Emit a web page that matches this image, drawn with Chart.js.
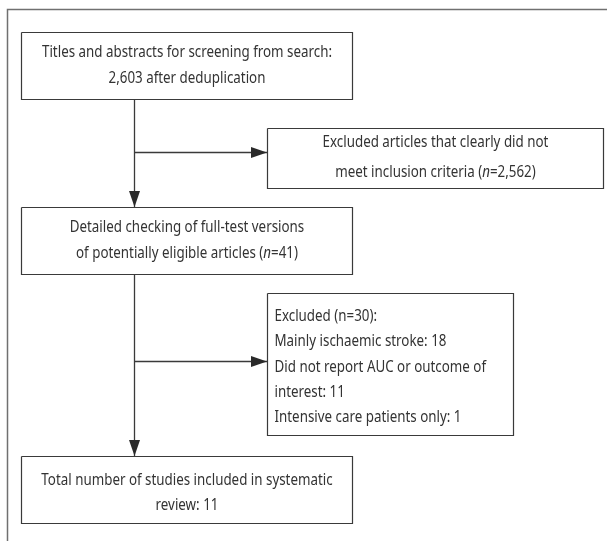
<!DOCTYPE html>
<html>
<head>
<meta charset="utf-8">
<script src="https://cdn.jsdelivr.net/npm/chart.js@4/dist/chart.umd.min.js"></script>
<style>
  html, body { margin: 0; padding: 0; background: #fff; }
  canvas { display: block; }
</style>
</head>
<body>
<canvas id="flow" width="607" height="541"></canvas>
<script>
// flow stages (left column) and their counts
var stageLabels = ['Titles and abstracts for screening from search', 'Detailed checking of full-test versions of potentially eligible articles', 'Total number of studies included in systematic review'];
var stageCounts = [2603, 41, 11];

// exclusions (right column)
var excludedLabels = ['Excluded articles that clearly did not meet inclusion criteria', 'Excluded'];
var excludedCounts = [2562, 30];

// reasons for the second exclusion
var reasonLabels = ['Mainly ischaemic stroke', 'Did not report AUC or outcome of interest', 'Intensive care patients only'];
var reasonCounts = [18, 11, 1];

function fmt(n) { return n.toLocaleString('en-US'); }

// layout, in scale units (scale == pixels here)
var boxes = [
  { r: [21.5, 32.5, 352.5, 99.5],  align: 'center', ys: [52, 78] },
  { r: [267.5, 128.5, 603.5, 188.5], align: 'center', ys: [142, 172] },
  { r: [21.5, 207.5, 352.5, 274.5], align: 'center', ys: [227, 253] },
  { r: [267.5, 293.5, 513.5, 435.5], align: 'left', ys: [316, 341, 367, 392, 417] },
  { r: [21.5, 456.5, 352.5, 523.5], align: 'center', ys: [480, 505] }
];
var trunkX = 134.5;
var arrows = [
  [[trunkX, 99.5], [trunkX, 207]],
  [[trunkX, 152.5], [267, 152.5]],
  [[trunkX, 274.5], [trunkX, 456]],
  [[trunkX, 361.5], [267, 361.5]]
];

// text of each box, lines as segments (i = italic)
var texts = [
  [[{ t: stageLabels[0] + ':' }], [{ t: fmt(stageCounts[0]) + ' after deduplication' }]],
  [[{ t: 'Excluded articles that clearly did not' }],
   [{ t: 'meet inclusion criteria (' }, { t: 'n', i: true }, { t: '=' + fmt(excludedCounts[0]) + ')' }]],
  [[{ t: 'Detailed checking of full-test versions' }],
   [{ t: 'of potentially eligible articles (' }, { t: 'n', i: true }, { t: '=' + fmt(stageCounts[1]) + ')' }]],
  [[{ t: excludedLabels[1] + ' (n=' + excludedCounts[1] + '):' }],
   [{ t: reasonLabels[0] + ': ' + reasonCounts[0] }],
   [{ t: 'Did not report AUC or outcome of' }],
   [{ t: 'interest: ' + reasonCounts[1] }],
   [{ t: reasonLabels[2] + ': ' + reasonCounts[2] }]],
  [[{ t: 'Total number of studies included in systematic' }], [{ t: 'review: ' + stageCounts[2] }]]
];

var FONT = '"Noto Sans", sans-serif';
var SIZE = 16.5;
var FIRST_LINE_WIDTH = 290; // width of the first line in the reference, used to condense the font

function rectPoints(r) {
  return [{ x: r[0], y: r[1] }, { x: r[2], y: r[1] }, { x: r[2], y: r[3] }, { x: r[0], y: r[3] }, { x: r[0], y: r[1] }];
}

var datasets = [];
// outer frame
datasets.push({ data: [{ x: 7.5, y: 541 }, { x: 7.5, y: 9.5 }, { x: 607, y: 9.5 }], borderColor: '#707070', borderWidth: 1.5 });
boxes.forEach(function (b) {
  datasets.push({ data: rectPoints(b.r), borderColor: '#3a3a3a', borderWidth: 1.2 });
});
arrows.forEach(function (a) {
  datasets.push({ data: a.map(function (p) { return { x: p[0], y: p[1] }; }), borderColor: '#3a3a3a', borderWidth: 1.3, arrow: true });
});
datasets.forEach(function (d) {
  d.showLine = true; d.pointRadius = 0; d.fill = false; d.tension = 0; d.clip = false;
});

var flowPlugin = {
  id: 'flow',
  afterDatasetsDraw: function (chart) {
    var ctx = chart.ctx, xs = chart.scales.x, ys = chart.scales.y;
    ctx.save();
    // arrow heads
    chart.data.datasets.forEach(function (d) {
      if (!d.arrow) return;
      var n = d.data.length;
      var p1 = d.data[n - 2], p2 = d.data[n - 1];
      var x1 = xs.getPixelForValue(p1.x), y1 = ys.getPixelForValue(p1.y);
      var x2 = xs.getPixelForValue(p2.x), y2 = ys.getPixelForValue(p2.y);
      var ang = Math.atan2(y2 - y1, x2 - x1), len = 16, half = 5.5;
      ctx.fillStyle = '#2a2a2a';
      ctx.beginPath();
      ctx.moveTo(x2, y2);
      ctx.lineTo(x2 - len * Math.cos(ang) - half * Math.sin(ang), y2 - len * Math.sin(ang) + half * Math.cos(ang));
      ctx.lineTo(x2 - len * Math.cos(ang) + half * Math.sin(ang), y2 - len * Math.sin(ang) - half * Math.cos(ang));
      ctx.closePath();
      ctx.fill();
    });
    // horizontal squeeze so the font looks condensed like the reference
    ctx.font = SIZE + 'px ' + FONT;
    var sx = FIRST_LINE_WIDTH / ctx.measureText(texts[0][0][0].t).width;
    ctx.fillStyle = '#333';
    ctx.textBaseline = 'middle';
    ctx.textAlign = 'left';
    boxes.forEach(function (b, bi) {
      var x0 = xs.getPixelForValue(b.r[0]), x1 = xs.getPixelForValue(b.r[2]);
      texts[bi].forEach(function (line, li) {
        var y = ys.getPixelForValue(b.ys[li]);
        var w = 0;
        line.forEach(function (s) {
          ctx.font = (s.i ? 'italic ' : '') + SIZE + 'px ' + FONT;
          s.w = ctx.measureText(s.t).width * sx;
          w += s.w;
        });
        var x = b.align === 'left' ? x0 + 7 : (x0 + x1) / 2 - w / 2;
        line.forEach(function (s) {
          ctx.font = (s.i ? 'italic ' : '') + SIZE + 'px ' + FONT;
          ctx.save();
          ctx.translate(x, y);
          ctx.scale(sx, 1);
          ctx.fillText(s.t, 0, 0);
          ctx.restore();
          x += s.w;
        });
      });
    });
    ctx.restore();
  }
};

new Chart(document.getElementById('flow'), {
  type: 'scatter',
  data: { datasets: datasets },
  options: {
    responsive: false,
    animation: false,
    events: [],
    layout: { padding: 0 },
    plugins: { legend: { display: false }, tooltip: { enabled: false } },
    scales: {
      x: { type: 'linear', min: 0, max: 607, display: false },
      y: { type: 'linear', min: 0, max: 541, reverse: true, display: false }
    }
  },
  plugins: [flowPlugin]
});
</script>
</body>
</html>
